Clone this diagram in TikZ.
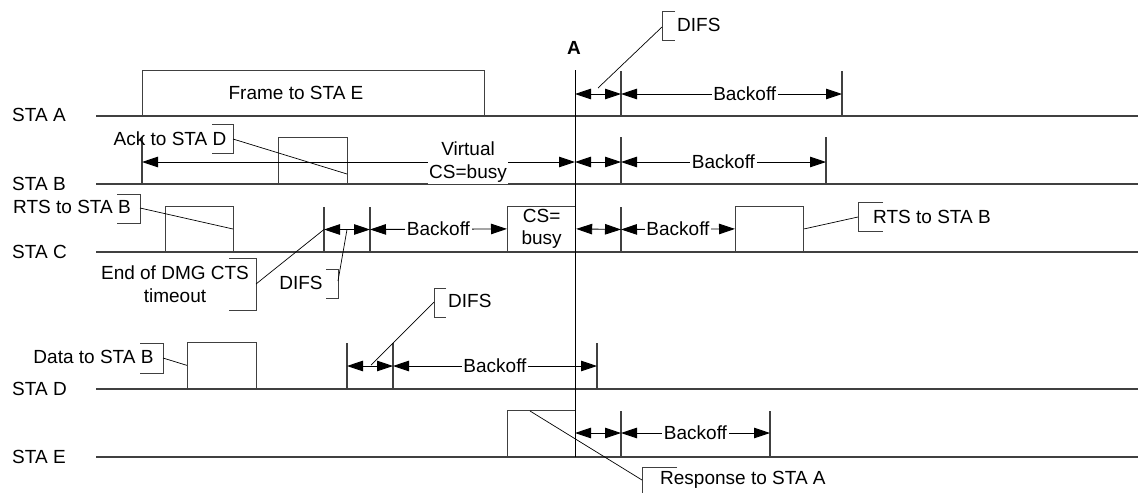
\documentclass[tikz,border=0pt]{standalone}
\usepackage{fontspec}
\setmainfont{Liberation Sans}
\usetikzlibrary{arrows.meta,positioning}

\begin{document}
\begin{tikzpicture}[x=1pt,y=-1pt,>={Triangle[length=16pt,width=10.5pt]},
 lane/.style={draw=black!75,line width=1.2pt},
 box/.style={draw=black!75,line width=1.2pt,inner sep=0pt},
 tick/.style={draw=black!75,line width=1.2pt},
 span/.style={<->,line width=0.9pt},
 lbl/.style={font=\fontsize{19}{22.5}\selectfont,inner sep=0pt,align=center},
 gap/.style={lbl,fill=white,inner sep=1.5pt},
 brk/.style={draw=black!75,line width=1pt},
 lead/.style={draw=black,line width=0.7pt}]
\useasboundingbox (0,0) rectangle (1138,493);

% stations and their time lines
\node[lbl,anchor=west] (sa) at (12,115) {STA A};
\node[lbl,anchor=west] (sb) at (12,184) {STA B};
\node[lbl,anchor=west] (sc) at (12,252) {STA C};
\node[lbl,anchor=west] (sd) at (12,389) {STA D};
\node[lbl,anchor=west] (se) at (12,457) {STA E};
\foreach \y in {116,184,252,389,457}
  \draw[lane] (96,\y) -- (1138,\y);

% frames on the medium
\node[box,minimum width=342pt,minimum height=45pt,anchor=south west] (frame) at (142,116) {};
\node[lbl] (framet) at (296,93) {Frame to STA E};
\node[box,minimum width=69pt,minimum height=46pt,anchor=south west] (ack) at (278,184) {};
\node[box,minimum width=68pt,minimum height=45pt,anchor=south west] (rts1) at (165,252) {};
\node[box,lbl,minimum width=68pt,minimum height=45pt,anchor=south west] (cs) at (507,252) {CS=\\busy};
\node[box,minimum width=68pt,minimum height=45pt,anchor=south west] (rts2) at (735,252) {};
\node[box,minimum width=69pt,minimum height=46pt,anchor=south west] (data) at (187,389) {};
\node[box,minimum width=68pt,minimum height=46pt,anchor=south west] (resp) at (507,457) {};

% instant A
\draw[line width=1pt] (575,70) -- (575,457);
\node[lbl,font=\fontsize{19}{22.5}\selectfont\bfseries] (amark) at (574,48) {A};

% slot boundaries
\foreach \x in {621,842} \draw[tick] (\x,71) -- (\x,116);
\foreach \x in {142,621,826} \draw[tick] (\x,137) -- (\x,184);
\foreach \x in {324,370,621} \draw[tick] (\x,207) -- (\x,252);
\foreach \x in {347,393,597} \draw[tick] (\x,343) -- (\x,389);
\foreach \x in {621,770} \draw[tick] (\x,411) -- (\x,457);

% STA A
\coordinate (a1) at (575,94);
\coordinate (a2) at (621,94);
\coordinate (a3) at (842,94);
\draw[span] (a1) -- (a2);
\draw[span] (a2) -- node[gap,pos=.56] {Backoff} (a3);

% STA B
\coordinate (b0) at (142,162);
\coordinate (b1) at (575,162);
\coordinate (b2) at (621,162);
\coordinate (b3) at (826,162);
\draw[span] (b0) -- node[gap,pos=.753] (virt) {Virtual\\CS=busy} (b1);
\draw[span] (b1) -- (b2);
\draw[span] (b2) -- node[gap] {Backoff} (b3);

% STA C
\coordinate (c1) at (324,229.5);
\coordinate (c2) at (370,229.5);
\coordinate (c3) at (621,229.5);
\draw[span] (c1) -- (c2);
\draw[span] (c2) -- node[gap] {Backoff} (cs.west);
\draw[span] (cs.east) -- (c3);
\draw[span] (c3) -- node[gap] {Backoff} (rts2.west);

% STA D
\coordinate (d1) at (347,366);
\coordinate (d2) at (393,366);
\coordinate (d3) at (597,366);
\draw[span] (d1) -- (d2);
\draw[span] (d2) -- node[gap] {Backoff} (d3);

% STA E
\coordinate (e1) at (575,433);
\coordinate (e2) at (621,433);
\coordinate (e3) at (770,433);
\draw[span] (e1) -- (e2);
\draw[span] (e2) -- node[gap] {Backoff} (e3);

% callouts
\node[lbl,anchor=west] (difsa) at (677,25) {DIFS};
\draw[brk] (675,11) -- (662,11) -- (662,40) -- (675,40);
\coordinate (difsab) at (662,27);
\coordinate (difsap) at (598,88);
\draw[lead] (difsab) -- (difsap);

\node[lbl] (ackt) at (170,138.5) {Ack to STA D};
\draw[brk] (212,124) -- (233,124) -- (233,153) -- (212,153);
\coordinate (ackb) at (233,139);
\coordinate (ackp) at (347,174);
\draw[lead] (ackb) -- (ackp);

\node[lbl] (rts1t) at (72,207) {RTS to STA B};
\draw[brk] (117,194) -- (140,194) -- (140,223) -- (117,223);
\coordinate (rts1b) at (140,208);
\coordinate (rts1p) at (233,229);
\draw[lead] (rts1b) -- (rts1p);

\node[lbl,anchor=west] (rts2t) at (873,216.5) {RTS to STA B};
\draw[brk] (883,202) -- (858,202) -- (858,231) -- (883,231);
\coordinate (rts2b) at (858,217);
\draw[lead] (rts2b) -- (rts2.east);

\node[lbl] (endt) at (175,284) {End of DMG CTS\\timeout};
\draw[brk] (229,258) -- (256,258) -- (256,310) -- (229,310);
\coordinate (endb) at (256,284);
\draw[lead] (endb) -- (c1);

\node[lbl] (difsc) at (301,283) {DIFS};
\draw[brk] (326,269) -- (338,269) -- (338,298) -- (326,298);
\coordinate (difscb) at (338,281);
\coordinate (difscp) at (347,229.5);
\draw[lead] (difscb) -- (difscp);

\node[lbl] (datat) at (93.5,357) {Data to STA B};
\draw[brk] (140,343) -- (163,343) -- (163,373) -- (140,373);
\coordinate (datab) at (163,358);
\draw[lead] (datab) -- (data.west);

\node[lbl,anchor=west] (difsd) at (448,301) {DIFS};
\draw[brk] (446,288) -- (434,288) -- (434,317) -- (446,317);
\coordinate (difsdb) at (434,302);
\coordinate (difsdp) at (371,365);
\draw[lead] (difsdb) -- (difsdp);

\node[lbl,anchor=west] (respt) at (660,480) {Response to STA A};
\draw[brk] (677,467) -- (642,467) -- (642,493);
\coordinate (respb) at (642,480);
\coordinate (respp) at (530,411);
\draw[lead] (respb) -- (respp);
\end{tikzpicture}
\end{document}
